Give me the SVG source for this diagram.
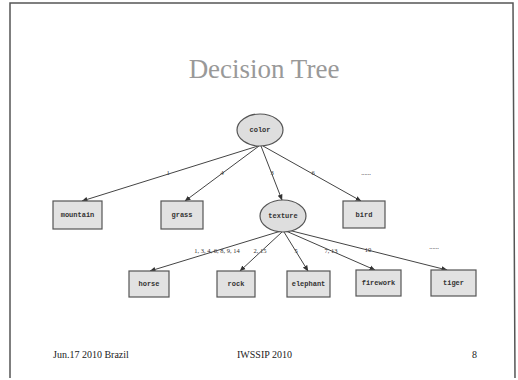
<svg xmlns="http://www.w3.org/2000/svg" width="518" height="380" viewBox="0 0 518 380">
<style>
.title{font-family:"Liberation Serif","Times New Roman",serif;font-size:27px;fill:#999;text-anchor:middle}
.box{fill:#e2e2e2;stroke:#555;stroke-width:1.2}
.ell{fill:#dedede;stroke:#555;stroke-width:1.2}
.lbl{font-family:"Liberation Mono",monospace;font-size:7px;font-weight:bold;fill:#333;text-anchor:middle}
.elbl{font-family:"Liberation Serif",serif;font-size:6.5px;fill:#333;text-anchor:middle}
.edge{stroke:#444;stroke-width:1;fill:none}
.foot{font-family:"Liberation Serif",serif;font-size:10px;fill:#222}
</style>
<defs>
<marker id="ah" markerWidth="6" markerHeight="6" refX="5.5" refY="3" orient="auto" markerUnits="userSpaceOnUse">
<path d="M0,0.5 L6,3 L0,5.5 Z" fill="#333"/>
</marker>
</defs>
<rect x="0" y="0" width="518" height="380" fill="#fff"/>
<path d="M10,378 L10,3 L513,3 L515,378" fill="none" stroke="#555" stroke-width="1.5"/>
<text class="title" x="264" y="78">Decision Tree</text>
<g id="connectors">
<line class="edge" x1="258" y1="146" x2="82" y2="201" marker-end="url(#ah)"/>
<line class="edge" x1="259" y1="146" x2="185" y2="201" marker-end="url(#ah)"/>
<line class="edge" x1="261" y1="146" x2="282" y2="200" marker-end="url(#ah)"/>
<line class="edge" x1="263" y1="146" x2="361" y2="201" marker-end="url(#ah)"/>
<line class="edge" x1="281" y1="231" x2="150" y2="271" marker-end="url(#ah)"/>
<line class="edge" x1="282" y1="232" x2="240" y2="271" marker-end="url(#ah)"/>
<line class="edge" x1="284" y1="232" x2="308" y2="271" marker-end="url(#ah)"/>
<line class="edge" x1="286" y1="231" x2="375" y2="270" marker-end="url(#ah)"/>
<line class="edge" x1="288" y1="230" x2="447" y2="270" marker-end="url(#ah)"/>
<text class="elbl" x="168" y="175">1</text>
<text class="elbl" x="222" y="175">4</text>
<text class="elbl" x="272" y="175">3</text>
<text class="elbl" x="313" y="175">6</text>
<text class="elbl" x="217" y="253">1, 3, 4, 6, 8, 9, 14</text>
<text class="elbl" x="260" y="253">2, 15</text>
<text class="elbl" x="296" y="253">5</text>
<text class="elbl" x="331" y="253">7, 13</text>
<text class="elbl" x="368" y="252">10</text>
<text class="elbl" x="366" y="175">......</text>
<text class="elbl" x="434" y="249">......</text>
</g>
<g id="color"><ellipse class="ell" cx="260" cy="130" rx="23" ry="16"/><text class="lbl" x="260" y="132">color</text></g>
<g id="mountain"><rect class="box" x="53" y="201" width="49" height="28"/><text class="lbl" x="77.5" y="217">mountain</text></g>
<g id="grass"><rect class="box" x="161" y="201" width="42" height="28"/><text class="lbl" x="182" y="217">grass</text></g>
<g id="texture"><ellipse class="ell" cx="283" cy="216" rx="23" ry="16"/><text class="lbl" x="283" y="218">texture</text></g>
<g id="bird"><rect class="box" x="343" y="201" width="42" height="27"/><text class="lbl" x="364" y="217">bird</text></g>
<g id="horse"><rect class="box" x="129" y="271" width="40" height="26"/><text class="lbl" x="149" y="286">horse</text></g>
<g id="rock"><rect class="box" x="217" y="271" width="38" height="26"/><text class="lbl" x="236" y="286">rock</text></g>
<g id="elephant"><rect class="box" x="287" y="271" width="43" height="26"/><text class="lbl" x="308.5" y="286">elephant</text></g>
<g id="firework"><rect class="box" x="356" y="270" width="45" height="26"/><text class="lbl" x="378.5" y="285">firework</text></g>
<g id="tiger"><rect class="box" x="431" y="270" width="45" height="26"/><text class="lbl" x="453.5" y="285">tiger</text></g>
<text class="foot" x="53" y="358">Jun.17 2010 Brazil</text>
<text class="foot" x="237" y="358">IWSSIP 2010</text>
<text class="foot" x="472" y="358">8</text>
</svg>
